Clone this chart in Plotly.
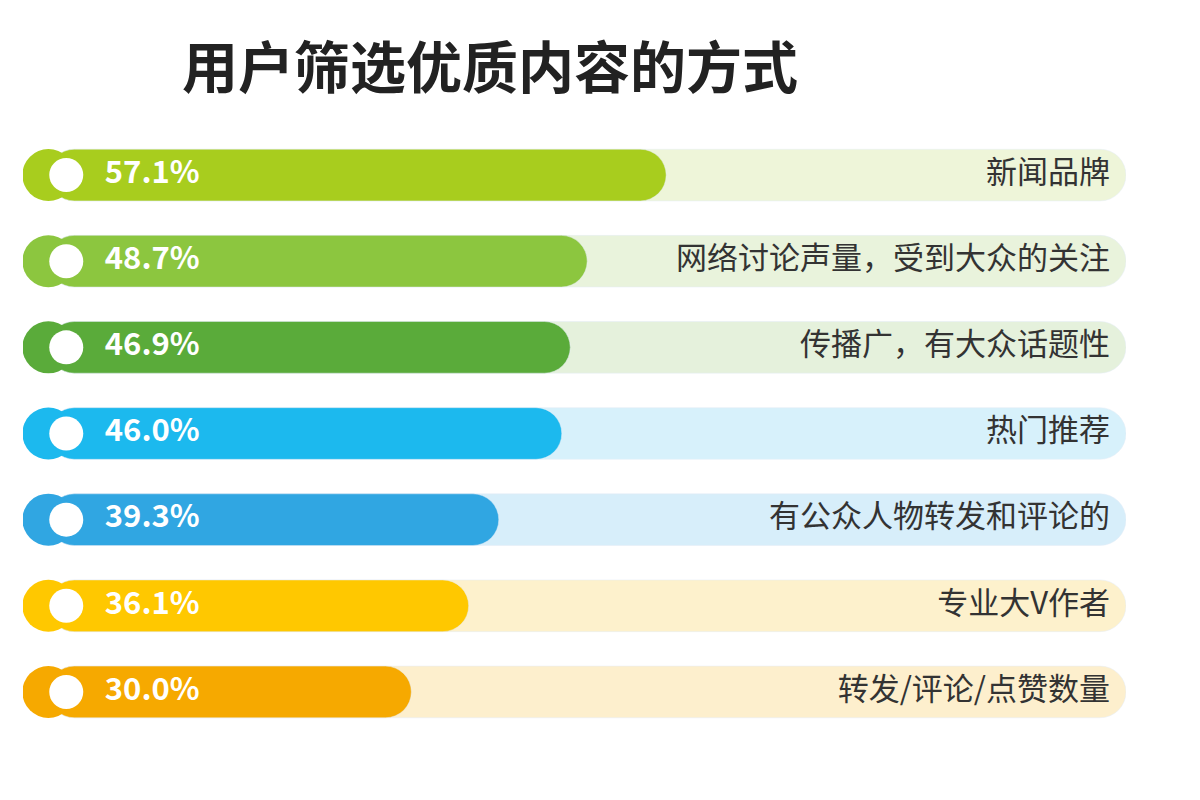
import plotly.graph_objects as go

categories = ["新闻品牌", "网络讨论声量，受到大众的关注", "传播广，有大众话题性", "热门推荐",
              "有公众人物转发和评论的", "专业大V作者", "转发/评论/点赞数量"]
values = [57.1, 48.7, 46.9, 46.0, 39.3, 36.1, 30.0]
bar_colors = ["#a8cd1e", "#8cc63f", "#5aab3a", "#1cb9ee", "#30a6e2", "#ffc800", "#f6a900"]
track_colors = ["#eef5d9", "#e9f3dc", "#e5f1dc", "#d7f1fb", "#d7eefa", "#fdf1cc", "#fdefcd"]
track_max = 106
x_min = -11.3
bar_base = -8.6

ys = list(range(len(categories)))
fig = go.Figure()
fig.add_bar(x=[track_max - bar_base]*len(ys), y=ys, base=bar_base, orientation="h",
            marker=dict(color=track_colors, cornerradius=26), width=0.6, hoverinfo="skip")
fig.add_bar(x=[v - bar_base for v in values], y=ys, base=bar_base, orientation="h",
            marker=dict(color=bar_colors, cornerradius=26), width=0.6, hoverinfo="skip")
fig.add_scatter(x=[bar_base]*len(ys), y=ys, mode="markers",
                marker=dict(color=bar_colors, size=52, symbol="circle", line=dict(width=0)), hoverinfo="skip")
fig.add_scatter(x=[-6.7]*len(ys), y=ys, mode="markers",
                marker=dict(color="white", size=34, symbol="circle"), hoverinfo="skip")
fig.add_scatter(x=[-2.6]*len(ys), y=ys, mode="text", text=[f"{v:.1f}%" for v in values],
                textposition="middle right",
                textfont=dict(color="white", size=31, family="Noto Sans CJK SC", weight="bold"))
fig.add_scatter(x=[track_max-1.7]*len(ys), y=ys, mode="text", text=categories,
                textposition="middle left",
                textfont=dict(color="#333333", size=31, family="Noto Sans CJK SC"))
fig.update_layout(
    width=1200, height=800, barmode="overlay", showlegend=False,
    paper_bgcolor="white", plot_bgcolor="white",
    margin=dict(l=15, r=82, t=124, b=73),
    xaxis=dict(range=[x_min, track_max], visible=False),
    yaxis=dict(range=[6.5, -0.5], visible=False),
    title=dict(text="<b>用户筛选优质内容的方式</b>", x=0.145, xanchor="left", y=0.925, yanchor="middle",
               font=dict(size=56, color="#222222", family="Noto Sans CJK SC")),
)
fig.write_html("out.html")
